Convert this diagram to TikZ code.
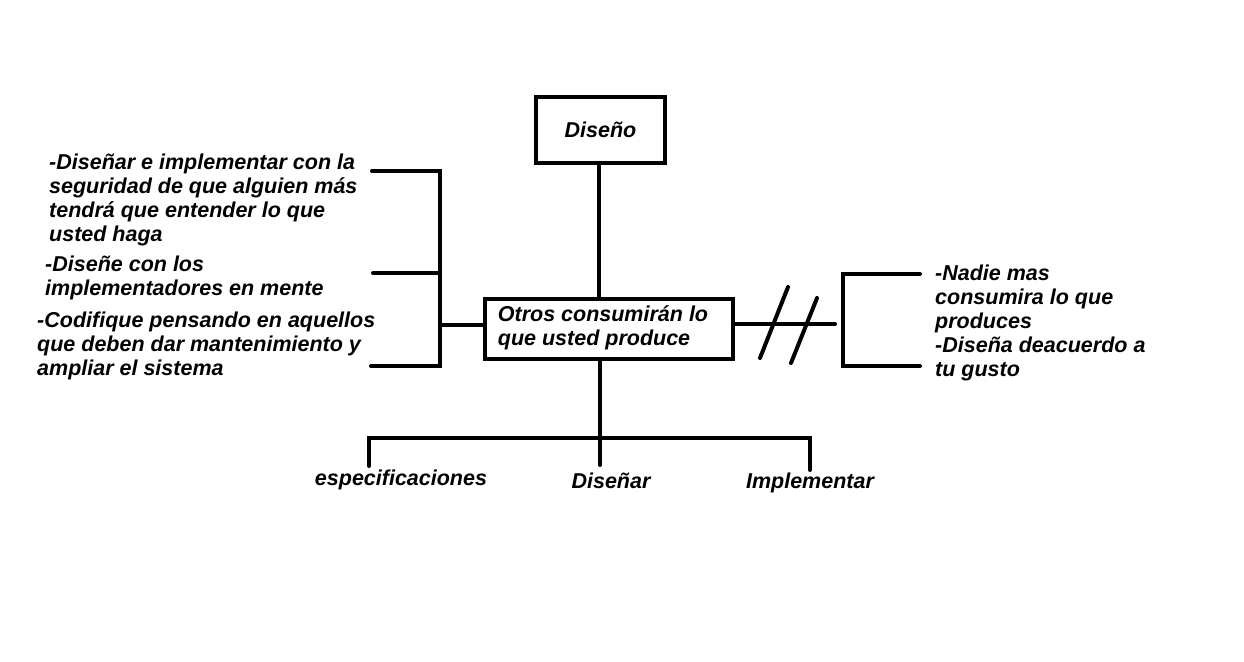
\documentclass[tikz,border=0pt]{standalone}
\usepackage{fontspec}
\setmainfont{Liberation Sans}
\newcommand{\mlines}[1]{\begin{tabular}[t]{@{}l@{}}#1\end{tabular}}
\begin{document}
\begin{tikzpicture}[x=1pt,y=-1pt,
  conn/.style={line width=4pt,line cap=round,line join=miter},
  boxnode/.style={draw,line width=4pt,inner sep=0pt,align=center},
  lbl/.style={inner sep=0pt,font=\fontsize{21.5}{24}\selectfont\bfseries\itshape}]
\useasboundingbox[fill=white] (0,0) rectangle (1244,661);

% boxes
\node[boxnode,minimum width=129pt,minimum height=66pt,lbl] (diseno) at (600.5,130) {Dise\~no};
\node[boxnode,minimum width=248pt,minimum height=60pt,lbl] (central) at (609,329)
  {\mlines{Otros consumir\'an lo\\que usted produce}\hspace*{12pt}};

% left texts
\node[lbl,anchor=base west] (l1) at (49,169) {\mlines{-Dise\~nar e implementar con la\\seguridad de que alguien m\'as\\tendr\'a que entender lo que\\usted haga}};
\node[lbl,anchor=base west] (l2) at (45,271.5) {\mlines{-Dise\~ne con los\\implementadores en mente}};
\node[lbl,anchor=base west] (l3) at (37,327) {\mlines{-Codifique pensando en aquellos\\que deben dar mantenimiento y\\ampliar el sistema}};

% right text
\node[lbl,anchor=base west] (r1) at (935,280) {\mlines{-Nadie mas\\consumira lo que\\produces\\-Dise\~na deacuerdo a\\tu gusto}};

% bottom labels
\node[lbl,anchor=base] (espec) at (401,485) {especificaciones};
\node[lbl,anchor=base] (disenar) at (611,488) {Dise\~nar};
\node[lbl,anchor=base] (impl) at (810,488) {Implementar};

% coordinates
\coordinate (j) at (600,438);
\coordinate (bl) at (369,438);
\coordinate (br) at (810,438);
\coordinate (blend) at (369,466);
\coordinate (jend) at (600,465);
\coordinate (brend) at (810,470);
\coordinate (lt) at (440,171);
\coordinate (lm) at (440,273);
\coordinate (lb) at (440,366);
\coordinate (lc) at (440,325);
\coordinate (lte) at (372,171);
\coordinate (lme) at (373,273);
\coordinate (lbe) at (371,366);
\coordinate (rc) at (835,324);
\coordinate (rt) at (920,274);
\coordinate (rb) at (920,366);
\coordinate (rv) at (843,366);
\coordinate (s1a) at (760,358);
\coordinate (s1b) at (788,287);
\coordinate (s2a) at (791,363);
\coordinate (s2b) at (817,298);

% connectors
\draw[conn] (diseno.south -| 599,0) -- (central.north -| 599,0);
\draw[conn] (central.south -| j) -- (j);
\draw[conn] (blend) -- (bl) -- (br) -- (brend);
\draw[conn] (j) -- (jend);

\draw[conn] (lte) -- (lt) -- (lb) -- (lbe);
\draw[conn] (lme) -- (lm);
\draw[conn] (lc) -- (lc -| central.west);

\draw[conn] (central.east |- rc) -- (rc);
\draw[conn] (s1a) -- (s1b);
\draw[conn] (s2a) -- (s2b);
\draw[conn] (rt) -| (rv) -- (rb);
\end{tikzpicture}
\end{document}
